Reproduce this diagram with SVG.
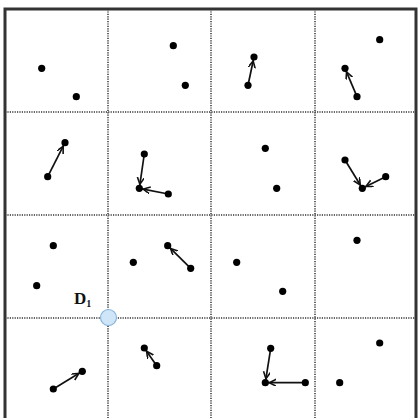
<svg xmlns="http://www.w3.org/2000/svg" width="418" height="418" viewBox="0 0 418 418">
<defs>
<style>
.grid{stroke:#333;stroke-width:1.5;stroke-dasharray:1.2 1.2;fill:none}
.border{stroke:#333;stroke-width:3;fill:none}
.dot{fill:#000}
.arr{stroke:#111;stroke-width:1.7;fill:none;marker-end:url(#ah)}
.lbl{font-family:"Liberation Serif",serif;font-weight:bold;fill:#111}
</style>
<marker id="ah" markerUnits="userSpaceOnUse" markerWidth="14" markerHeight="10" refX="11" refY="3.5" orient="auto">
<path d="M0,0 L7,3.5 L0,7" stroke="#111" stroke-width="1.6" fill="none"/>
</marker>
</defs>
<rect width="418" height="418" fill="#fff"/>
<g id="grid">
<line class="grid" x1="108" y1="9" x2="108" y2="418"/>
<line class="grid" x1="211" y1="9" x2="211" y2="418"/>
<line class="grid" x1="315" y1="9" x2="315" y2="418"/>
<line class="grid" x1="5" y1="112" x2="416" y2="112"/>
<line class="grid" x1="5" y1="215" x2="416" y2="215"/>
<line class="grid" x1="5" y1="318" x2="416" y2="318"/>
<path class="border" d="M5,420 V9 H416 V420"/>
</g>
<g id="connectors">
<line class="arr" x1="47.7" y1="176.7" x2="65" y2="142.7"/>
<line class="arr" x1="144.3" y1="154" x2="139.3" y2="188.3"/>
<line class="arr" x1="168.3" y1="194" x2="139.3" y2="188.3"/>
<line class="arr" x1="248" y1="85.3" x2="254" y2="57"/>
<line class="arr" x1="357" y1="96.7" x2="345" y2="68.3"/>
<line class="arr" x1="345" y1="160" x2="362.3" y2="188.3"/>
<line class="arr" x1="385.7" y1="176.7" x2="362.3" y2="188.3"/>
<line class="arr" x1="190.7" y1="268.3" x2="167.7" y2="245.7"/>
<line class="arr" x1="53.3" y1="389" x2="82.3" y2="371.3"/>
<line class="arr" x1="156.7" y1="365.7" x2="144.3" y2="348"/>
<line class="arr" x1="270.7" y1="348.3" x2="265.3" y2="382.7"/>
<line class="arr" x1="305.3" y1="382.7" x2="265.3" y2="382.7"/>
</g>
<g id="n1"><circle class="dot" cx="41.7" cy="68.3" r="3.6"/></g>
<g id="n2"><circle class="dot" cx="76.3" cy="96.7" r="3.6"/></g>
<g id="n3"><circle class="dot" cx="173.3" cy="45.7" r="3.6"/></g>
<g id="n4"><circle class="dot" cx="185.3" cy="85.3" r="3.6"/></g>
<g id="n5"><circle class="dot" cx="248" cy="85.3" r="3.6"/></g>
<g id="n6"><circle class="dot" cx="254" cy="57" r="3.6"/></g>
<g id="n7"><circle class="dot" cx="379.7" cy="39.7" r="3.6"/></g>
<g id="n8"><circle class="dot" cx="357" cy="96.7" r="3.6"/></g>
<g id="n9"><circle class="dot" cx="345" cy="68.3" r="3.6"/></g>
<g id="n10"><circle class="dot" cx="47.7" cy="176.7" r="3.6"/></g>
<g id="n11"><circle class="dot" cx="65" cy="142.7" r="3.6"/></g>
<g id="n12"><circle class="dot" cx="144.3" cy="154" r="3.6"/></g>
<g id="n13"><circle class="dot" cx="139.3" cy="188.3" r="3.6"/></g>
<g id="n14"><circle class="dot" cx="168.3" cy="194" r="3.6"/></g>
<g id="n15"><circle class="dot" cx="265.3" cy="148.3" r="3.6"/></g>
<g id="n16"><circle class="dot" cx="276.7" cy="188.3" r="3.6"/></g>
<g id="n17"><circle class="dot" cx="345" cy="160" r="3.6"/></g>
<g id="n18"><circle class="dot" cx="362.3" cy="188.3" r="3.6"/></g>
<g id="n19"><circle class="dot" cx="385.7" cy="176.7" r="3.6"/></g>
<g id="n20"><circle class="dot" cx="53.3" cy="245.7" r="3.6"/></g>
<g id="n21"><circle class="dot" cx="36.7" cy="285.7" r="3.6"/></g>
<g id="n22"><circle class="dot" cx="133.3" cy="262.3" r="3.6"/></g>
<g id="n23"><circle class="dot" cx="190.7" cy="268.3" r="3.6"/></g>
<g id="n24"><circle class="dot" cx="167.7" cy="245.7" r="3.6"/></g>
<g id="n25"><circle class="dot" cx="236.7" cy="262.3" r="3.6"/></g>
<g id="n26"><circle class="dot" cx="282.7" cy="291.3" r="3.6"/></g>
<g id="n27"><circle class="dot" cx="357" cy="240.3" r="3.6"/></g>
<g id="n28"><circle class="dot" cx="53.3" cy="389" r="3.6"/></g>
<g id="n29"><circle class="dot" cx="82.3" cy="371.3" r="3.6"/></g>
<g id="n30"><circle class="dot" cx="156.7" cy="365.7" r="3.6"/></g>
<g id="n31"><circle class="dot" cx="144.3" cy="348" r="3.6"/></g>
<g id="n32"><circle class="dot" cx="270.7" cy="348.3" r="3.6"/></g>
<g id="n33"><circle class="dot" cx="265.3" cy="382.7" r="3.6"/></g>
<g id="n34"><circle class="dot" cx="305.3" cy="382.7" r="3.6"/></g>
<g id="n35"><circle class="dot" cx="379.7" cy="343" r="3.6"/></g>
<g id="n36"><circle class="dot" cx="339.7" cy="382.7" r="3.6"/></g>
<g id="D1">
<circle cx="108.5" cy="317.5" r="8" fill="#cfe6f8" stroke="#8ab4dc" stroke-width="1.2"/>
<text class="lbl" x="74" y="304" font-size="17">D<tspan font-size="10" dy="3">1</tspan></text>
</g>
</svg>
